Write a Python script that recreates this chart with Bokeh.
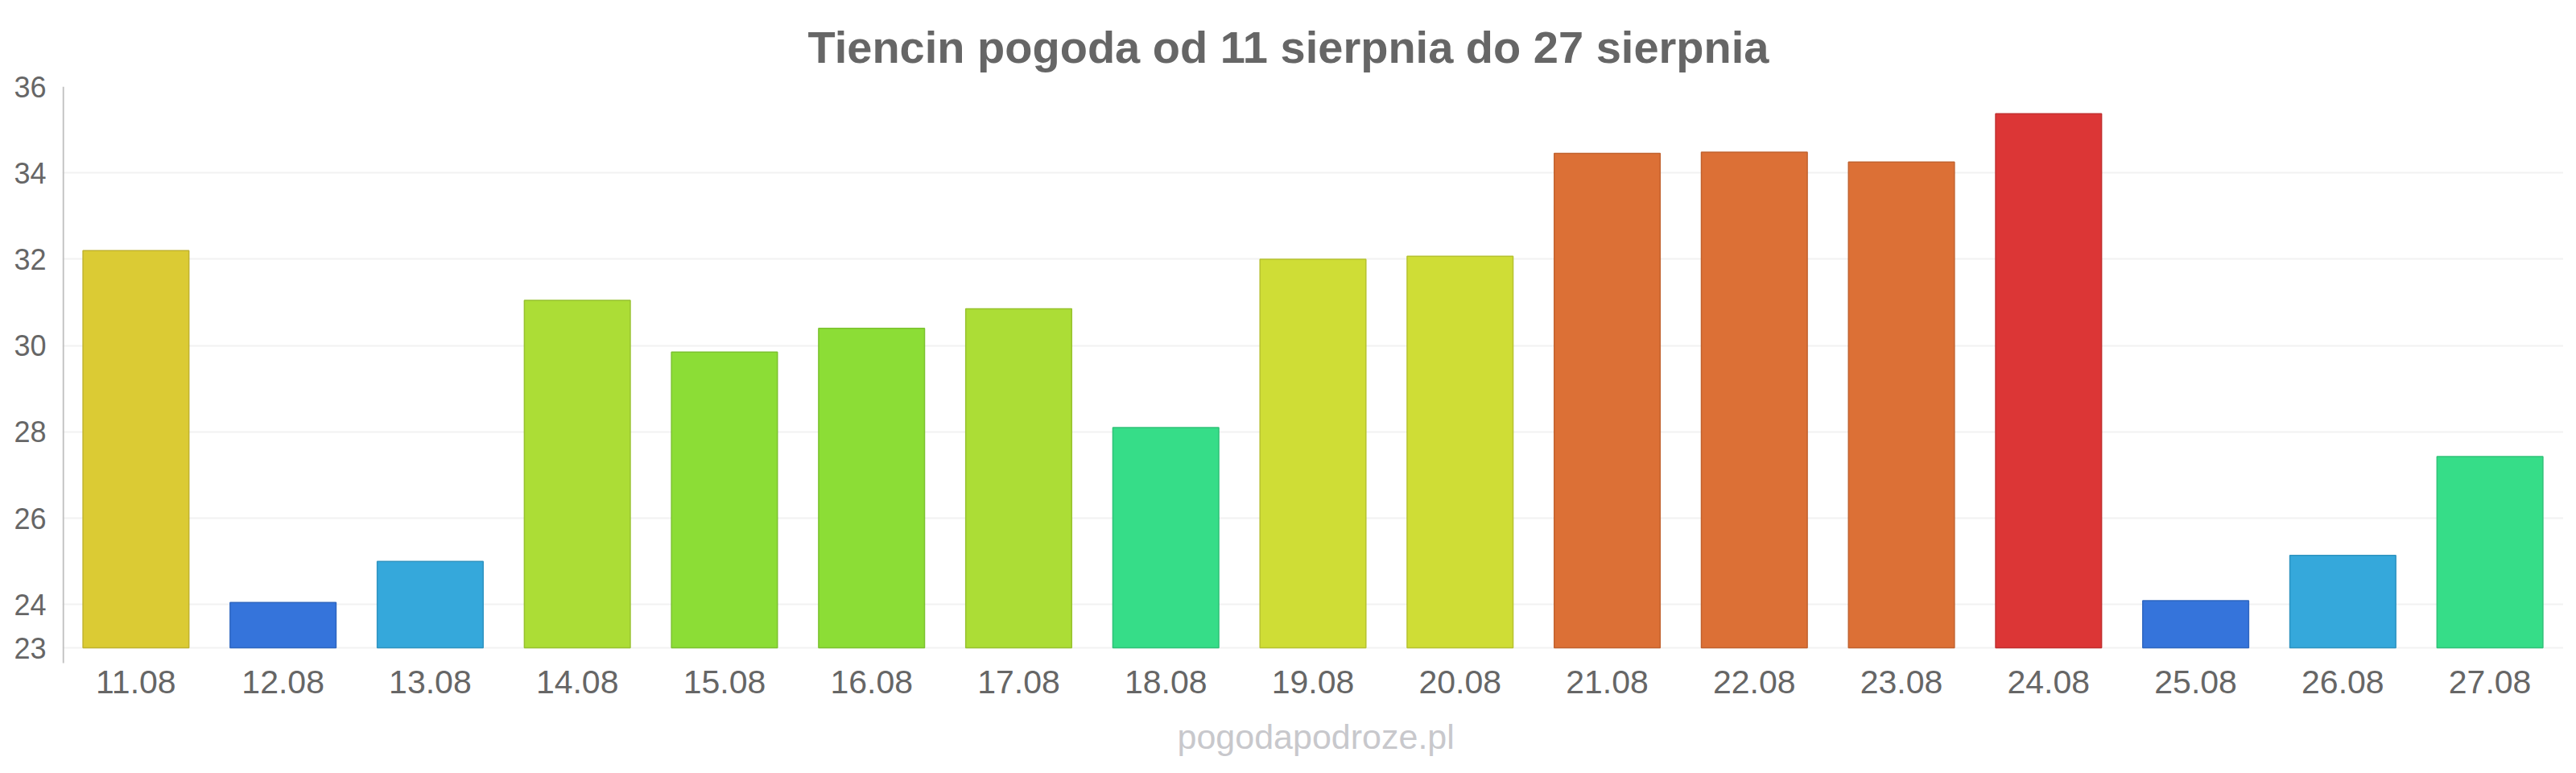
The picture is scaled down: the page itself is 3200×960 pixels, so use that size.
from bokeh.plotting import figure
from bokeh.models import FactorRange, Range1d, FixedTicker, Title, ColumnDataSource
from bokeh.core.properties import value
from bokeh.embed import file_html
from bokeh.resources import INLINE

# ---- data ----
dates = ["11.08", "12.08", "13.08", "14.08", "15.08", "16.08", "17.08", "18.08", "19.08",
         "20.08", "21.08", "22.08", "23.08", "24.08", "25.08", "26.08", "27.08"]
temps = [32.2, 24.05, 25.0, 31.05, 29.85, 30.4, 30.85, 28.1, 32.0,
         32.07, 34.45, 34.48, 34.25, 35.37, 24.09, 25.14, 27.43]
y_ticks = [23, 24, 26, 28, 30, 32, 34, 36]
title_text = "Tiencin pogoda od 11 sierpnia do 27 sierpnia"
watermark = "pogodapodroze.pl"

# ---- styles ----
bar_colors = ["#dbcb34", "#3574db", "#35a8db", "#acdd36", "#8cdd36", "#8cdd36", "#acdd36",
              "#36dd88", "#cfdd36", "#cfdd36", "#dc7036", "#dc7036", "#dc7036", "#dc3636",
              "#3574db", "#35a8db", "#36dd88"]


def darker(c, f=0.88):
    r, g, b = (int(c[i:i + 2], 16) for i in (1, 3, 5))
    return "#%02x%02x%02x" % (int(r * f), int(g * f), int(b * f))


src = ColumnDataSource(dict(x=dates, top=temps, fill=bar_colors,
                            line=[darker(c) for c in bar_colors]))

W, H = 3184, 944
FL, FT = 77, 107            # frame left / top in canvas pixels
AXIS_Y = 22.646             # where the x axis sits (bottom of the y axis line)
Y_MIN = 20.389              # frame reaches the canvas bottom, so the axis area is inside it
p = figure(width=W, height=H, x_range=FactorRange(*dates, range_padding=0),
           y_range=Range1d(Y_MIN, 36), output_backend="svg", toolbar_location=None,
           min_border_left=FL, min_border_right=0, min_border_top=FT, min_border_bottom=0)
p.outline_line_color = None
p.background_fill_color = "white"
p.border_fill_color = "white"

p.vbar(x="x", top="top", bottom=23, width=0.72, source=src,
       fill_color="fill", line_color="line", line_width=1.5)

# y axis line (only down to the x axis)
p.segment(x0=[0.006], x1=[0.006], y0=[AXIS_Y], y1=[36], line_color="#bfbfbf", line_width=2)

# watermark
p.text(x=[8.52], y=[20.93], text=[watermark], text_align="center", text_baseline="middle",
       text_font=value("Liberation Sans"), text_font_size="43px", text_color="#c8c8cc")

t = Title(text=title_text, align="left", offset=926, text_font="Liberation Sans",
          text_font_size="56px", text_font_style="bold", text_color="#666666",
          standoff=36)
p.add_layout(t, "above")

p.xgrid.grid_line_color = None
p.ygrid.ticker = FixedTicker(ticks=y_ticks)
p.ygrid.grid_line_color = "#f2f2f2"
p.ygrid.grid_line_width = 2

ya = p.yaxis[0]
ya.ticker = FixedTicker(ticks=y_ticks)
ya.axis_line_color = None
ya.major_tick_line_color = None
ya.minor_tick_line_color = None
ya.major_tick_out = 0
ya.major_tick_in = 0
ya.major_label_standoff = 20
ya.major_label_text_font = "Liberation Sans"
ya.major_label_text_font_size = "36px"
ya.major_label_text_color = "#666666"

xa = p.xaxis[0]
xa.fixed_location = AXIS_Y
xa.axis_line_color = None
xa.major_tick_line_color = None
xa.minor_tick_line_color = None
xa.major_tick_out = 0
xa.major_tick_in = 0
xa.major_label_standoff = 10
xa.major_label_text_font = "Liberation Sans"
xa.major_label_text_font_size = "41px"
xa.major_label_text_color = "#666666"

open("out.html", "w").write(file_html(p, INLINE))
